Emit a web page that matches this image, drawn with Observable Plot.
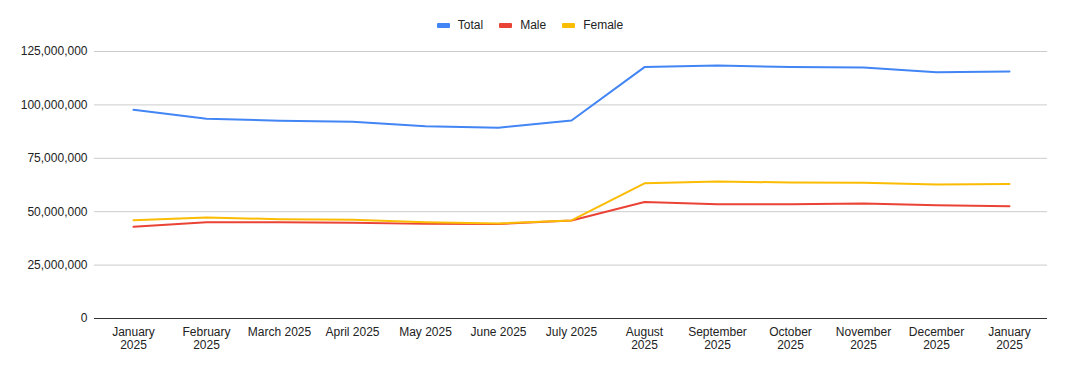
<!DOCTYPE html>
<html><head><meta charset="utf-8">
<script src="https://cdn.jsdelivr.net/npm/d3@7"></script>
<script src="https://cdn.jsdelivr.net/npm/@observablehq/plot@0.6"></script>
<style>
body{margin:0;background:#fff;font-family:"Liberation Sans",Arial,sans-serif;}
#legend{height:40px;display:flex;justify-content:center;align-items:center;gap:16px;font-size:12px;color:#222;padding-top:10px;box-sizing:border-box;padding-right:6px}
#legend span.sw{display:inline-block;width:13px;height:5px;border-radius:1px;margin-right:8px;vertical-align:middle}
#legend div{display:flex;align-items:center}
</style></head>
<body>
<div id="legend"></div>
<div id="chart"></div>
<script>
const months = ["January 2025","February 2025","March 2025","April 2025","May 2025","June 2025","July 2025","August 2025","September 2025","October 2025","November 2025","December 2025","January 2025"];
const wrapMonths = [true,true,false,false,false,false,false,true,true,true,true,true,true];
const total = [97700000,93500000,92600000,92100000,90000000,89300000,92700000,117700000,118400000,117700000,117500000,115300000,115600000];
const male = [42900000,45100000,45100000,44800000,44300000,44200000,45900000,54500000,53500000,53500000,53800000,53000000,52600000];
const female = [46000000,47300000,46500000,46200000,45100000,44500000,45900000,63300000,64100000,63700000,63500000,62700000,63000000];
const seriesNames = ["Total","Male","Female"];
const colors = ["#4285F4","#EA4335","#FBBC04"];

const seriesVals = [total, male, female];
const rows = [];
seriesNames.forEach((s, k) => seriesVals[k].forEach((v, i) => rows.push({i, v, s})));

const leg = document.getElementById("legend");
seriesNames.forEach((s, k) => {
  const d = document.createElement("div");
  d.innerHTML = `<span class="sw" style="background:${colors[k]}"></span>${s}`;
  leg.appendChild(d);
});

const fmtX = i => wrapMonths[i] ? months[i].replace(" ", "\n") : months[i];

const chart = Plot.plot({
  width: 1066, height: 331,
  marginLeft: 94, marginRight: 19, marginTop: 11, marginBottom: 53,
  style: {fontFamily: '"Liberation Sans",Arial,sans-serif', fontSize: "12px", color: "#222"},
  x: {type: "point", domain: d3.range(months.length), padding: 0.5, label: null},
  y: {domain: [0, 125000000], label: null},
  color: {domain: seriesNames, range: colors},
  marks: [
    Plot.gridY({ticks: d3.range(25000000, 125000001, 25000000), stroke: "#ccc", strokeOpacity: 1}),
    Plot.ruleY([0], {stroke: "#333"}),
    Plot.axisX({tickSize: 0, tickPadding: 8, lineHeight: 1.12, tickFormat: fmtX}),
    Plot.axisY({tickSize: 0, tickPadding: 7, tickFormat: d3.format(","), ticks: d3.range(0, 125000001, 25000000)}),
    Plot.line(rows, {x: "i", y: "v", z: "s", stroke: "s", strokeWidth: 2})
  ]
});
document.getElementById("chart").appendChild(chart);
</script>
</body></html>
